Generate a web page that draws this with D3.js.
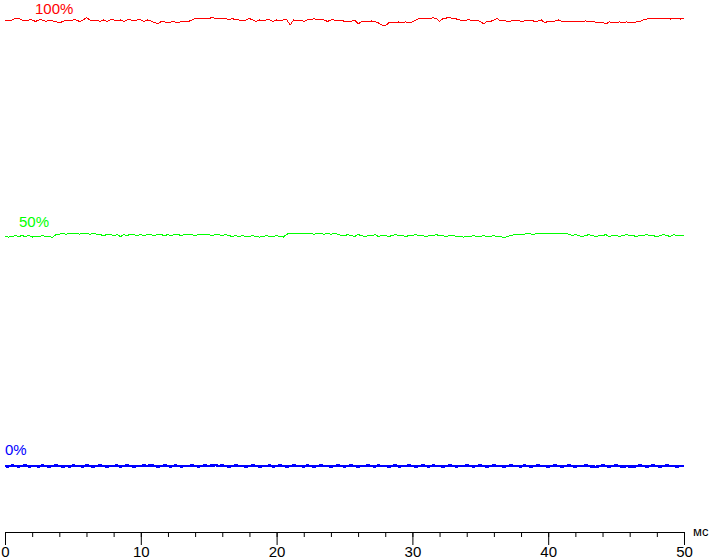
<!DOCTYPE html>
<html>
<head>
<meta charset="utf-8">
<script src="https://cdn.jsdelivr.net/npm/d3@7"></script>
<style>
  body { margin: 0; background: #fff; }
  svg { display: block; font-family: Arial, "Liberation Sans", sans-serif; }
</style>
</head>
<body>
<script>
// brightness in % of max, sampled every 0.25 ms (0..50 ms)
const step = 0.25

const red = [
  99.9,99.68,99.9,100.23,100.23,99.9,99.68,99.9,99.9,99.57,
  99.9,99.9,99.57,99.9,99.68,99.57,99.24,99.57,99.9,99.68,
  99.9,99.9,99.57,99.9,100.45,99.9,99.68,99.9,99.57,99.9,
  99.57,99.9,99.9,99.68,99.9,99.57,99.9,99.9,99.68,99.9,
  99.9,99.57,99.9,99.68,99.35,99.02,99.57,99.46,99.24,99.46,
  99.46,99.35,99.57,99.46,99.57,99.9,100.23,100.34,100.12,100.34,
  100.23,100.45,100.23,100.12,100.34,100.23,99.9,100.23,99.9,99.9,
  99.68,99.9,100.23,99.9,99.57,99.9,99.68,99.9,99.9,99.57,
  99.9,99.68,99.9,99.9,98.8,99.9,99.68,99.9,99.57,99.9,
  99.9,100.23,99.9,100.12,99.9,99.57,99.9,99.9,99.68,99.9,
  99.57,99.68,99.57,99.9,99.02,99.57,99.68,99.57,99.68,99.57,
  99.24,98.8,98.58,99.24,99.46,99.35,99.46,99.35,99.46,99.35,
  99.46,99.9,100.23,100.34,100.23,100.12,100.45,100.23,99.57,100.23,
  100.34,100.45,100.23,100.12,99.9,99.68,99.9,99.9,99.68,99.9,
  99.57,99.02,99.68,99.57,99.9,100.23,99.68,99.9,99.57,99.68,
  99.68,99.9,99.57,99.68,99.68,99.9,99.57,99.68,99.9,99.24,
  99.68,99.57,99.68,99.9,99.57,99.68,99.57,99.68,99.57,99.68,
  99.57,99.68,99.57,99.68,99.35,99.46,99.35,99.02,99.46,99.35,
  99.35,99.46,99.35,99.46,99.35,99.24,99.46,99.57,99.9,100.12,
  100.23,100.34,100.12,100.34,100.23,100.34,100.12,100.34,100.23,100.12,
  100.23
]

const green = [
  51.44,51.33,51.44,51.66,51.44,51.66,51.44,51.66,51.33,51.44,
  51.44,51.66,51.44,51.44,51.22,51.88,51.99,52.1,51.99,52.1,
  52.21,52.1,51.99,52.1,52.1,51.99,52.1,51.99,51.88,51.66,
  51.88,51.99,51.66,51.88,51.44,51.88,51.66,51.99,51.88,51.66,
  51.88,51.66,51.88,51.88,51.66,51.88,51.88,51.66,51.88,51.66,
  51.88,51.88,51.66,51.99,51.88,51.88,51.66,51.88,51.88,51.99,
  51.88,51.66,51.88,51.88,51.66,51.88,51.66,51.44,51.66,51.44,
  51.66,51.44,51.44,51.66,51.44,51.33,51.44,51.66,51.44,51.44,
  51.66,51.44,51.33,51.99,52.1,52.1,52.21,52.1,52.21,52.1,
  52.1,51.99,52.1,52.1,51.99,52.1,51.99,52.1,51.99,51.66,
  51.66,51.88,51.66,51.44,51.88,51.66,51.44,51.66,51.66,51.88,
  51.44,51.66,51.66,51.44,51.66,51.88,51.66,51.66,51.44,51.66,
  51.66,51.88,51.66,51.66,51.44,51.66,51.66,51.88,51.66,51.66,
  51.44,51.66,51.66,51.44,51.44,51.33,51.44,51.44,51.66,51.44,
  51.44,51.66,51.44,51.44,51.66,51.44,51.44,51.22,51.44,51.66,
  51.88,51.99,51.88,51.99,52.1,51.99,51.99,52.1,52.21,52.1,
  52.21,52.1,52.1,52.21,52.1,52.1,51.99,51.66,51.88,51.66,
  51.44,51.66,51.88,51.66,51.44,51.66,51.66,51.88,51.44,51.66,
  51.66,51.44,51.66,51.88,51.66,51.66,51.44,51.66,51.66,51.88,
  51.66,51.66,51.33,51.66,51.88,51.66,51.44,51.88,51.66,51.66,
  51.66
]

const blue = [
  0.1,0,0.2,0.1,0,0.1,0.2,0,0.1,0.1,
  0,0.2,0.1,0,0.1,0.2,0.1,0,0.1,0,
  0.2,0.1,0.1,0,0.2,0.1,0,0.1,0.2,0.1,
  0,0.1,0.1,0.2,0,0.1,0.2,0.1,0,0.1,
  0.1,0.2,0.1,0.3,0.1,0,0.1,0.2,0.1,0,
  0.2,0.1,0,0.1,0.1,0.2,0.1,0,0.1,0.2,
  0.1,0.2,0.3,0.1,0.2,0.1,0,0.1,0.2,0.1,
  0.1,0,0.1,0.2,0.1,0,0.1,0.1,0.2,0,
  0.1,0.2,0.1,0,0.1,0.2,0.1,0.1,0,0.2,
  0.1,0,0.1,0.2,0.1,0.1,0,0.1,0.2,0.1,
  0,0.1,0.2,0.1,0,0.1,0.1,0.2,0.1,0,
  0.2,0.1,0.1,0,0.1,0.2,0,0.1,0.1,0.2,
  0.1,0,0.1,0.2,0.1,0,0.2,0.1,0.1,0,
  0.1,0.2,0.1,0,0.1,0.1,0.2,0.1,0,0.1,
  0.2,0.1,0,0.1,0.2,0.1,0.1,0,0.1,0.2,
  0.1,0.1,0,0.2,0.1,0,0.1,0.2,0.1,0.1,
  0,0.1,0.2,0.1,0,0.1,0.2,0.1,0,0.1,
  0.1,0.2,0.1,0,-0.1,0.1,0.2,0.1,0,0.1,
  0.2,0.1,-0.1,0.1,0,-0.1,0.1,0.2,0.1,0,
  0.1,0.2,0.1,0,0.1,0.2,0.1,0.1,0,0.1,
  0.1
]

const seriesNames = ['100%', '50%', '0%']
const seriesColors = ['#ff0000', '#00ff00', '#0000ff']
const majorTicks = [0, 10, 20, 30, 40, 50]
const minorTicks = d3.range(0, 51, 2)
const unitLabel = 'мс'

const width = 711
const height = 560

const svg = d3.select('body')
  .append('svg')
  .attr('width', width)
  .attr('height', height)

const x = d3.scaleLinear().domain([0, 50]).range([5, 684])
const y = d3.scaleLinear().domain([0, 100]).range([466.45, 19.55])

const line = d3.line()
  .x((d, i) => x(i * step))
  .y(d => y(d))

const series = [red, green, blue]

series.forEach((values, k) => {
  svg.append('path')
    .datum(values)
    .attr('d', line)
    .attr('fill', 'none')
    .attr('stroke', seriesColors[k])
    .attr('stroke-width', k === 2 ? 2.6 : 1)
    .attr('shape-rendering', 'crispEdges')
})

// series labels sit just above each trace
const labelPos = [
  { x: 35, y: 14 },
  { x: 19, y: 227 },
  { x: 5, y: 455 }
]
svg.selectAll('text.series')
  .data(seriesNames)
  .join('text')
  .attr('class', 'series')
  .attr('x', (d, i) => labelPos[i].x)
  .attr('y', (d, i) => labelPos[i].y)
  .attr('fill', (d, i) => seriesColors[i])
  .attr('font-size', 15)
  .text(d => d)

// x axis: minor ticks every 2 ms, major every 10 ms
const axisY = 532

svg.append('g')
  .attr('transform', `translate(0,${axisY})`)
  .call(d3.axisBottom(x).tickValues(minorTicks).tickSize(5).tickSizeOuter(0).tickFormat(''))
  .call(g => g.selectAll('line').attr('stroke', '#000'))
  .call(g => g.select('.domain').attr('stroke', '#000'))

svg.append('g')
  .attr('transform', `translate(0,${axisY})`)
  .call(d3.axisBottom(x).tickValues(majorTicks).tickSize(13).tickSizeOuter(0))
  .call(g => g.select('.domain').remove())
  .call(g => g.selectAll('line').attr('stroke', '#000'))
  .call(g => g.selectAll('text')
    .attr('y', 14)
    .attr('fill', '#000')
    .attr('font-size', 15)
    .attr('font-family', 'Arial, "Liberation Sans", sans-serif'))

svg.append('text')
  .attr('x', 693)
  .attr('y', 536)
  .attr('font-size', 13)
  .attr('fill', '#000')
  .text(unitLabel)
</script>
</body>
</html>
